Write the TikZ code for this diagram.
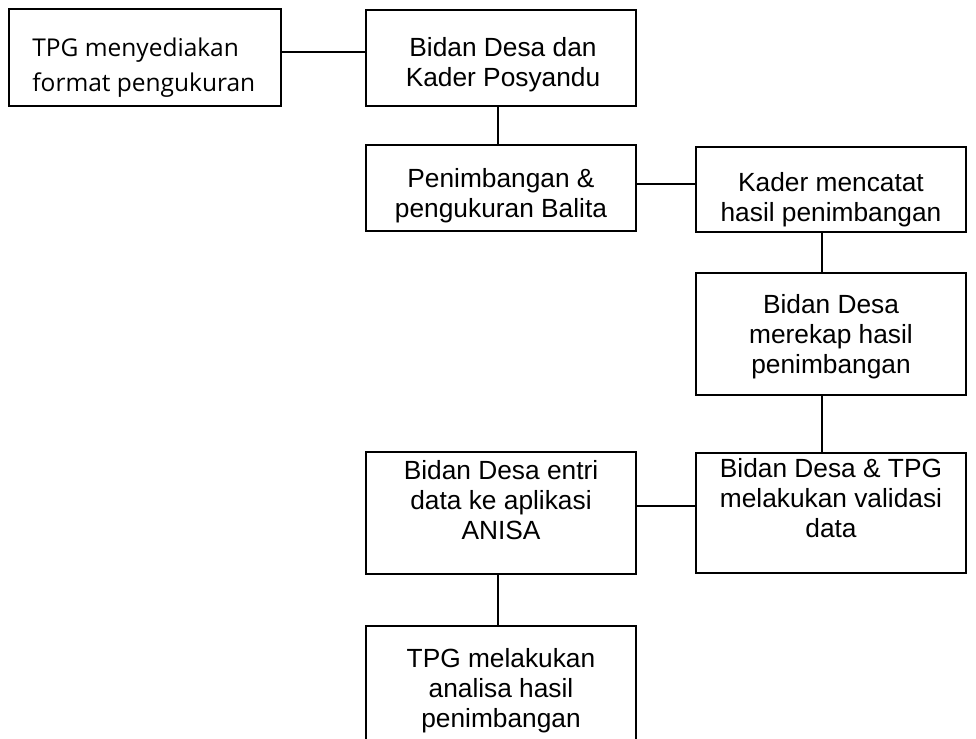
\documentclass[tikz,border=0pt]{standalone}
\usepackage{fontspec}
\setmainfont{Liberation Sans}
\newfontfamily\opensans{Open Sans}
\begin{document}
\begin{tikzpicture}[x=0.5pt,y=-0.5pt,
    box/.style={draw,line width=0.9pt,minimum width=135pt,inner sep=0pt},
    txt/.style={anchor=north,align=center,inner sep=0pt,font=\fontsize{13.15}{15.1}\selectfont}]
      \clip (0,0) rectangle (976,739);
      \node[box,minimum width=136pt,minimum height=48.5pt] (tpg) at (145,57.5) {};
      \node[box,minimum height=48pt] (dan) at (501,58) {};
      \node[box,minimum height=43pt] (timbang) at (501,188) {};
      \node[box,minimum height=42.5pt] (catat) at (831,189.5) {};
      \node[box,minimum height=61pt] (rekap) at (831,334) {};
      \node[box,minimum height=60pt] (validasi) at (831,513) {};
      \node[box,minimum height=61pt] (entri) at (501,513) {};
      \node[box,minimum height=87pt] (analisa) at (501,713) {};
      \node[txt,anchor=north west,align=left,font=\opensans\fontsize{12.25}{17.85}\selectfont]
        (tpg-t) at (32,37) {TPG menyediakan\\format pengukuran};
      \node[txt] (dan-t) at (503,37) {Bidan Desa dan\\Kader Posyandu};
      \node[txt] (timbang-t) at (501,168) {Penimbangan \&\\pengukuran Balita};
      \node[txt] (catat-t) at (831,172) {Kader mencatat\\hasil penimbangan};
      \node[txt] (rekap-t) at (831,294) {Bidan Desa\\merekap hasil\\penimbangan};
      \node[txt] (validasi-t) at (831,458) {Bidan Desa \& TPG\\melakukan validasi\\data};
      \node[txt] (entri-t) at (501,460) {Bidan Desa entri\\data ke aplikasi\\ANISA};
      \node[txt] (analisa-t) at (501,648) {TPG melakukan\\analisa hasil\\penimbangan};
      \coordinate (kiri) at (498,0);
      \coordinate (kanan) at (822,0);
      \coordinate (baris1) at (0,52);
      \coordinate (baris2) at (0,184);
      \coordinate (baris3) at (0,506);
      \begin{scope}[line width=0.9pt]
        \draw (tpg.east |- baris1) to (dan.west |- baris1);
        \draw (dan.south -| kiri) to (timbang.north -| kiri);
        \draw (timbang.east |- baris2) to (catat.west |- baris2);
        \draw (catat.south -| kanan) to (rekap.north -| kanan);
        \draw (rekap.south -| kanan) to (validasi.north -| kanan);
        \draw (validasi.west |- baris3) to (entri.east |- baris3);
        \draw (entri.south -| kiri) to (analisa.north -| kiri);
      \end{scope}
    \end{tikzpicture}
\end{document}
